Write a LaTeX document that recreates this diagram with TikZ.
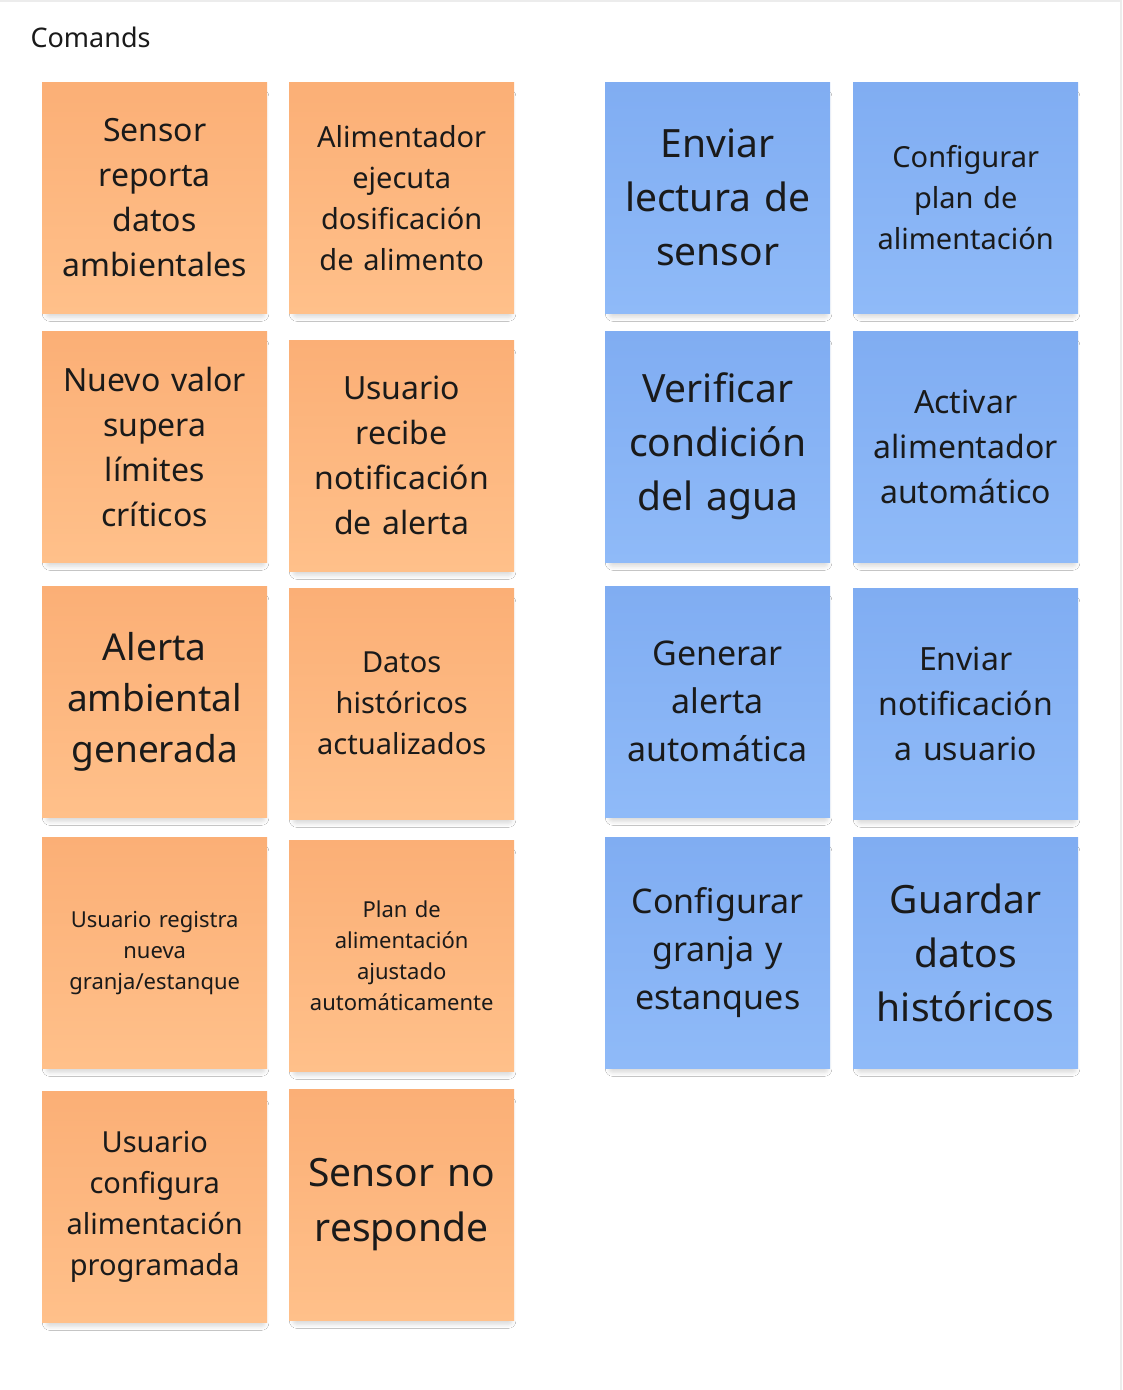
\documentclass[tikz,border=0pt]{standalone}
\usepackage{fontspec}
\setmainfont{Noto Sans}
\usetikzlibrary{shadows.blur}

\definecolor{noteorangetop}{RGB}{251,175,118}
\definecolor{noteorangebot}{RGB}{255,192,138}
\definecolor{notebluetop}{RGB}{128,173,242}
\definecolor{notebluebot}{RGB}{143,186,248}
\definecolor{notetext}{RGB}{26,26,26}
\definecolor{framegray}{RGB}{236,236,236}

\begin{document}
\begin{tikzpicture}[x=1pt,y=-1pt]
	\tikzset{sticky/.style={anchor=north west,minimum width=225pt,minimum height=231pt,
		text width=215pt,align=center,inner sep=0pt,text=notetext,
		blur shadow={shadow xshift=1pt,shadow yshift=-8pt,shadow scale=0.94,
			shadow blur radius=8pt,shadow blur steps=12,shadow opacity=30}}}
	\tikzset{orangenote/.style={sticky,top color=noteorangetop,bottom color=noteorangebot}}
	\tikzset{bluenote/.style={sticky,top color=notebluetop,bottom color=notebluebot}}
	\tikzset{fs/.style 2 args={font=\fontsize{#1}{#2}\selectfont}}

	\useasboundingbox[fill=white] (0,0) rectangle (1123,1390);
	\draw[framegray,line width=1.5pt] (0,1) -- (1121,1) -- (1121,1390);

	\node[anchor=west,font=\fontsize{27}{32}\selectfont,text=notetext] (title) at (27,37) {Comands};

	% events
	\node[orangenote,fs={32}{45}] (sensorReporta) at (42,82) {Sensor\\reporta\\datos\\ambientales};
	\node[orangenote,fs={29}{41}] (alimEjecuta) at (289,82) {Alimentador\\ejecuta\\dosificación\\de alimento};
	\node[orangenote,fs={32}{45}] (nuevoValor) at (42,331) {Nuevo valor\\supera\\límites\\críticos};
	\node[orangenote,fs={32}{45}] (usuarioRecibe) at (289,340) {Usuario\\recibe\\notificación\\de alerta};
	\node[orangenote,fs={37}{51}] (alertaGenerada) at (42,586) {Alerta\\ambiental\\generada};
	\node[orangenote,fs={29}{41}] (datosActualizados) at (289,588) {Datos\\históricos\\actualizados};
	\node[orangenote,fs={22}{31}] (usuarioRegistra) at (42,837) {Usuario registra\\nueva\\granja/estanque};
	\node[orangenote,fs={22}{31}] (planAjustado) at (289,840) {Plan de\\alimentación\\ajustado\\automáticamente};
	\node[orangenote,fs={29}{41}] (usuarioConfigura) at (42,1091) {Usuario\\configura\\alimentación\\programada};
	\node[orangenote,fs={39}{55}] (sensorNoResponde) at (289,1089) {Sensor no\\responde};

	% commands
	\node[bluenote,fs={39}{54}] (enviarLectura) at (605,82) {Enviar\\lectura de\\sensor};
	\node[bluenote,fs={29}{41}] (configPlan) at (853,82) {Configurar\\plan de\\alimentación};
	\node[bluenote,fs={39}{54}] (verificarAgua) at (605,331) {Verificar\\condición\\del agua};
	\node[bluenote,fs={32}{45}] (activarAlim) at (853,331) {Activar\\alimentador\\automático};
	\node[bluenote,fs={34}{48}] (generarAlerta) at (605,586) {Generar\\alerta\\automática};
	\node[bluenote,fs={32}{45}] (enviarNotif) at (853,588) {Enviar\\notificación\\a usuario};
	\node[bluenote,fs={34}{48}] (configGranja) at (605,837) {Configurar\\granja y\\estanques};
	\node[bluenote,fs={39}{54}] (guardarDatos) at (853,837) {Guardar\\datos\\históricos};
\end{tikzpicture}
\end{document}
